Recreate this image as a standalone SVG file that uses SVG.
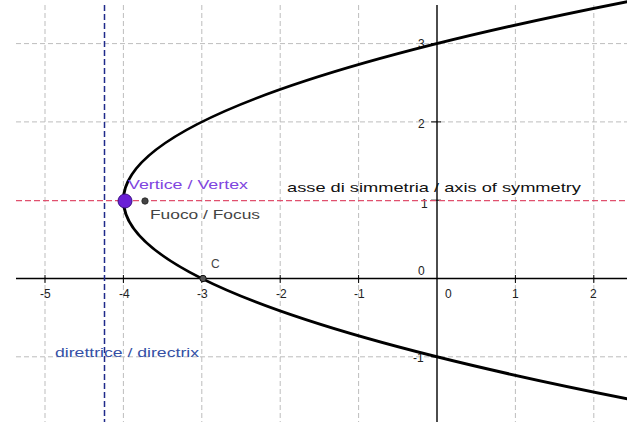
<svg xmlns="http://www.w3.org/2000/svg" width="627" height="422" viewBox="0 0 627 422">
  <style>
    .grid { stroke: #bdbdbd; stroke-width: 1; stroke-dasharray: 5 3; fill: none; }
    .axis { stroke: #000; stroke-width: 1.4; fill: none; }
    .tick { stroke: #000; stroke-width: 1; }
    .lbl { font-family: "Liberation Sans", Arial, sans-serif; font-size: 12px; fill: #222; }
    .num { font-family: "Liberation Sans", Arial, sans-serif; font-size: 12px; fill: #222; }
  </style>
  <rect x="0" y="0" width="627" height="422" fill="#fff"/>
  <g id="grid">
    <line class="grid" x1="45" y1="5" x2="45" y2="422"/>
    <line class="grid" x1="123.4" y1="5" x2="123.4" y2="422"/>
    <line class="grid" x1="201.8" y1="5" x2="201.8" y2="422"/>
    <line class="grid" x1="280.2" y1="5" x2="280.2" y2="422"/>
    <line class="grid" x1="358.6" y1="5" x2="358.6" y2="422"/>
    <line class="grid" x1="515.4" y1="5" x2="515.4" y2="422"/>
    <line class="grid" x1="593.8" y1="5" x2="593.8" y2="422"/>
    <line class="grid" x1="16" y1="43.6" x2="627" y2="43.6"/>
    <line class="grid" x1="16" y1="121.9" x2="627" y2="121.9"/>
    <line class="grid" x1="16" y1="356.8" x2="627" y2="356.8"/>
  </g>
  <g id="axes">
    <line class="axis" x1="16" y1="278.5" x2="627" y2="278.5"/>
    <line class="axis" x1="437" y1="5" x2="437" y2="422"/>
    <g class="tick">
      <line x1="45" y1="275" x2="45" y2="283"/>
      <line x1="123.4" y1="275" x2="123.4" y2="283"/>
      <line x1="201.8" y1="275" x2="201.8" y2="283"/>
      <line x1="280.2" y1="275" x2="280.2" y2="283"/>
      <line x1="358.6" y1="275" x2="358.6" y2="283"/>
      <line x1="515.4" y1="275" x2="515.4" y2="283"/>
      <line x1="593.8" y1="275" x2="593.8" y2="283"/>
      <line x1="431" y1="43.6" x2="441" y2="43.6"/>
      <line x1="431" y1="121.9" x2="441" y2="121.9"/>
      <line x1="431" y1="200.2" x2="441" y2="200.2"/>
      <line x1="431" y1="356.8" x2="441" y2="356.8"/>
    </g>
    <text class="num" x="40" y="298">-5</text>
    <text class="num" x="119" y="298">-4</text>
    <text class="num" x="197" y="298">-3</text>
    <text class="num" x="276" y="298">-2</text>
    <text class="num" x="354" y="298">-1</text>
    <text class="num" x="445" y="298">0</text>
    <text class="num" x="512" y="298">1</text>
    <text class="num" x="590" y="298">2</text>
    <text class="num" x="418" y="48">3</text>
    <text class="num" x="418" y="128">2</text>
    <text class="num" x="421" y="208">1</text>
    <text class="num" x="418" y="275">0</text>
    <text class="num" x="413" y="362">-1</text>
  </g>
  <g id="connectors">
    <line id="axis-of-symmetry" x1="16" y1="200.7" x2="627" y2="200.7" stroke="#e0506e" stroke-width="1.2" stroke-dasharray="6 3"/>
    <line id="directrix" x1="104.5" y1="5" x2="104.5" y2="422" stroke="#1f2a8a" stroke-width="1.5" stroke-dasharray="6 3"/>
    <path id="parabola" d="M633.2,0.5 Q-386.4,200.2 633.2,399.9" fill="none" stroke="#000" stroke-width="3"/>
  </g>
  <g id="vertex">
    <circle cx="125" cy="201" r="7" fill="#6a1fd6" stroke="#3a0f80" stroke-width="1"/>
    <text class="lbl" x="128" y="189" style="fill:#8045e0" textLength="120" lengthAdjust="spacingAndGlyphs">Vertice / Vertex</text>
  </g>
  <g id="focus">
    <circle cx="145" cy="201" r="3.2" fill="#444" stroke="#222" stroke-width="0.8"/>
    <text class="lbl" x="150" y="219" style="fill:#444" textLength="110" lengthAdjust="spacingAndGlyphs">Fuoco / Focus</text>
  </g>
  <g id="point-c">
    <circle cx="203" cy="278.5" r="3.2" fill="#555" stroke="#111" stroke-width="1"/>
    <text class="lbl" x="211" y="268" style="fill:#444">C</text>
  </g>
  <g id="labels">
    <text class="lbl" x="287" y="192" style="fill:#111;font-size:13px" textLength="294" lengthAdjust="spacingAndGlyphs">asse di simmetria / axis of symmetry</text>
    <text class="lbl" x="55" y="357" style="fill:#3550a5" textLength="144" lengthAdjust="spacingAndGlyphs">direttrice / directrix</text>
  </g>
</svg>
